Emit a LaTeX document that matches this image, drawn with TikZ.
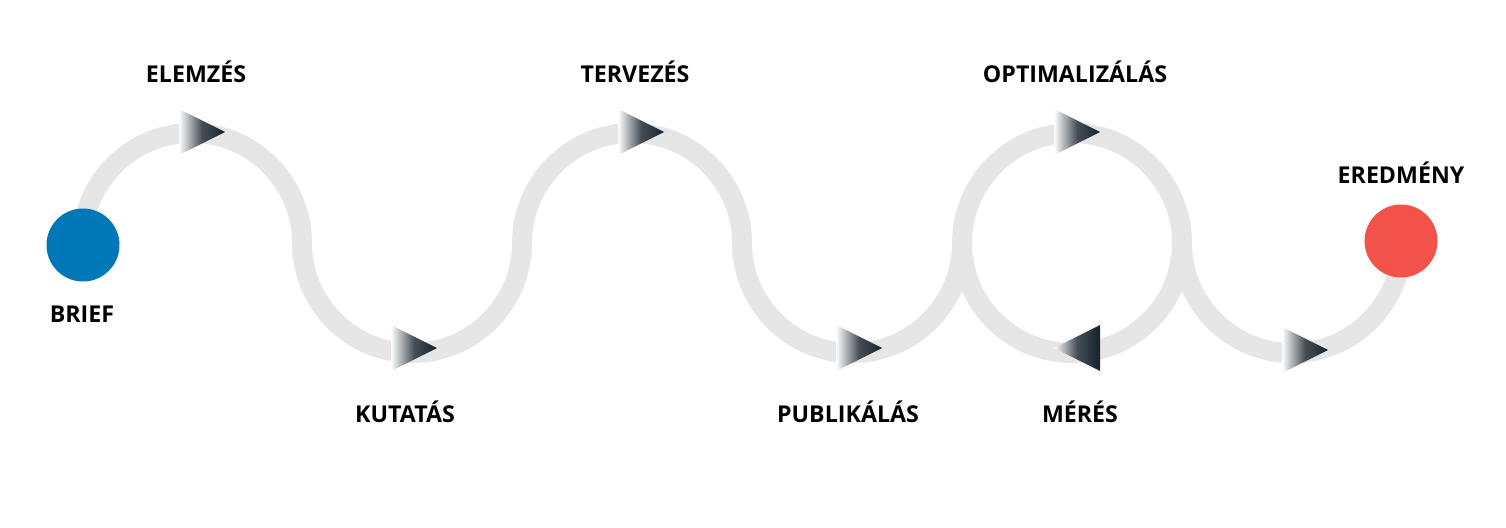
\documentclass[tikz,border=0pt]{standalone}
\usepackage{fontspec}
\setmainfont{Open Sans}
\definecolor{track}{HTML}{E6E6E6}
\definecolor{tipdark}{HTML}{16222C}
\definecolor{startblue}{HTML}{0077B6}
\definecolor{endred}{HTML}{F2524A}
\newcommand{\flowtip}[3]{%
  \begin{scope}[shift={(#1,#2)},xscale=#3]
    \shade[left color=white,right color=tipdark,middle color=tipdark!80]
      (-23,23) -- (23,0) -- (-23,-23) -- cycle;
  \end{scope}}
\begin{document}
\begin{tikzpicture}[
            x=0.02cm, y=0.02cm,
            lbl/.style ={font=\fontsize{13.2}{15}\selectfont\bfseries, text=black},
            dot/.style ={circle, minimum size=1.46cm, inner sep=0pt}
            ]
            \useasboundingbox (0,0) rectangle (1506,-527);

            %% Track
            \begin{scope}[track, line width=0.4cm]
                \draw (82,-243) arc (180:0:110) arc (180:360:110)
                    arc (180:0:110) arc (180:360:110);
                \draw (1072,-243) circle (110);
                \draw (1182,-243) arc (180:360:110);
            \end{scope}

            %% Start and end
            \node[dot, fill=startblue] (brief) at (83,-245) {};
            \node[dot, fill=endred] (result) at (1401,-241) {};

            %% Tips
            \flowtip{202}{-132}{1}
            \flowtip{414}{-348}{1}
            \flowtip{641}{-132}{1}
            \flowtip{859}{-348}{1}
            \flowtip{1077}{-132}{1}
            \flowtip{1077}{-348}{-1}
            \flowtip{1305}{-350}{1}

            %% Labels
            \node[lbl] (lbrief) at (82,-314) {BRIEF};
            \node[lbl] (lelem) at (196,-72) {ELEMZÉS};
            \node[lbl] (lkut) at (405,-412) {KUTATÁS};
            \node[lbl] (lterv) at (635,-72) {TERVEZÉS};
            \node[lbl] (lpub) at (848,-412) {PUBLIKÁLÁS};
            \node[lbl] (lopt) at (1075,-72) {OPTIMALIZÁLÁS};
            \node[lbl] (lmer) at (1080,-412) {MÉRÉS};
            \node[lbl] (lered) at (1401,-173) {EREDMÉNY};
        \end{tikzpicture}
\end{document}
